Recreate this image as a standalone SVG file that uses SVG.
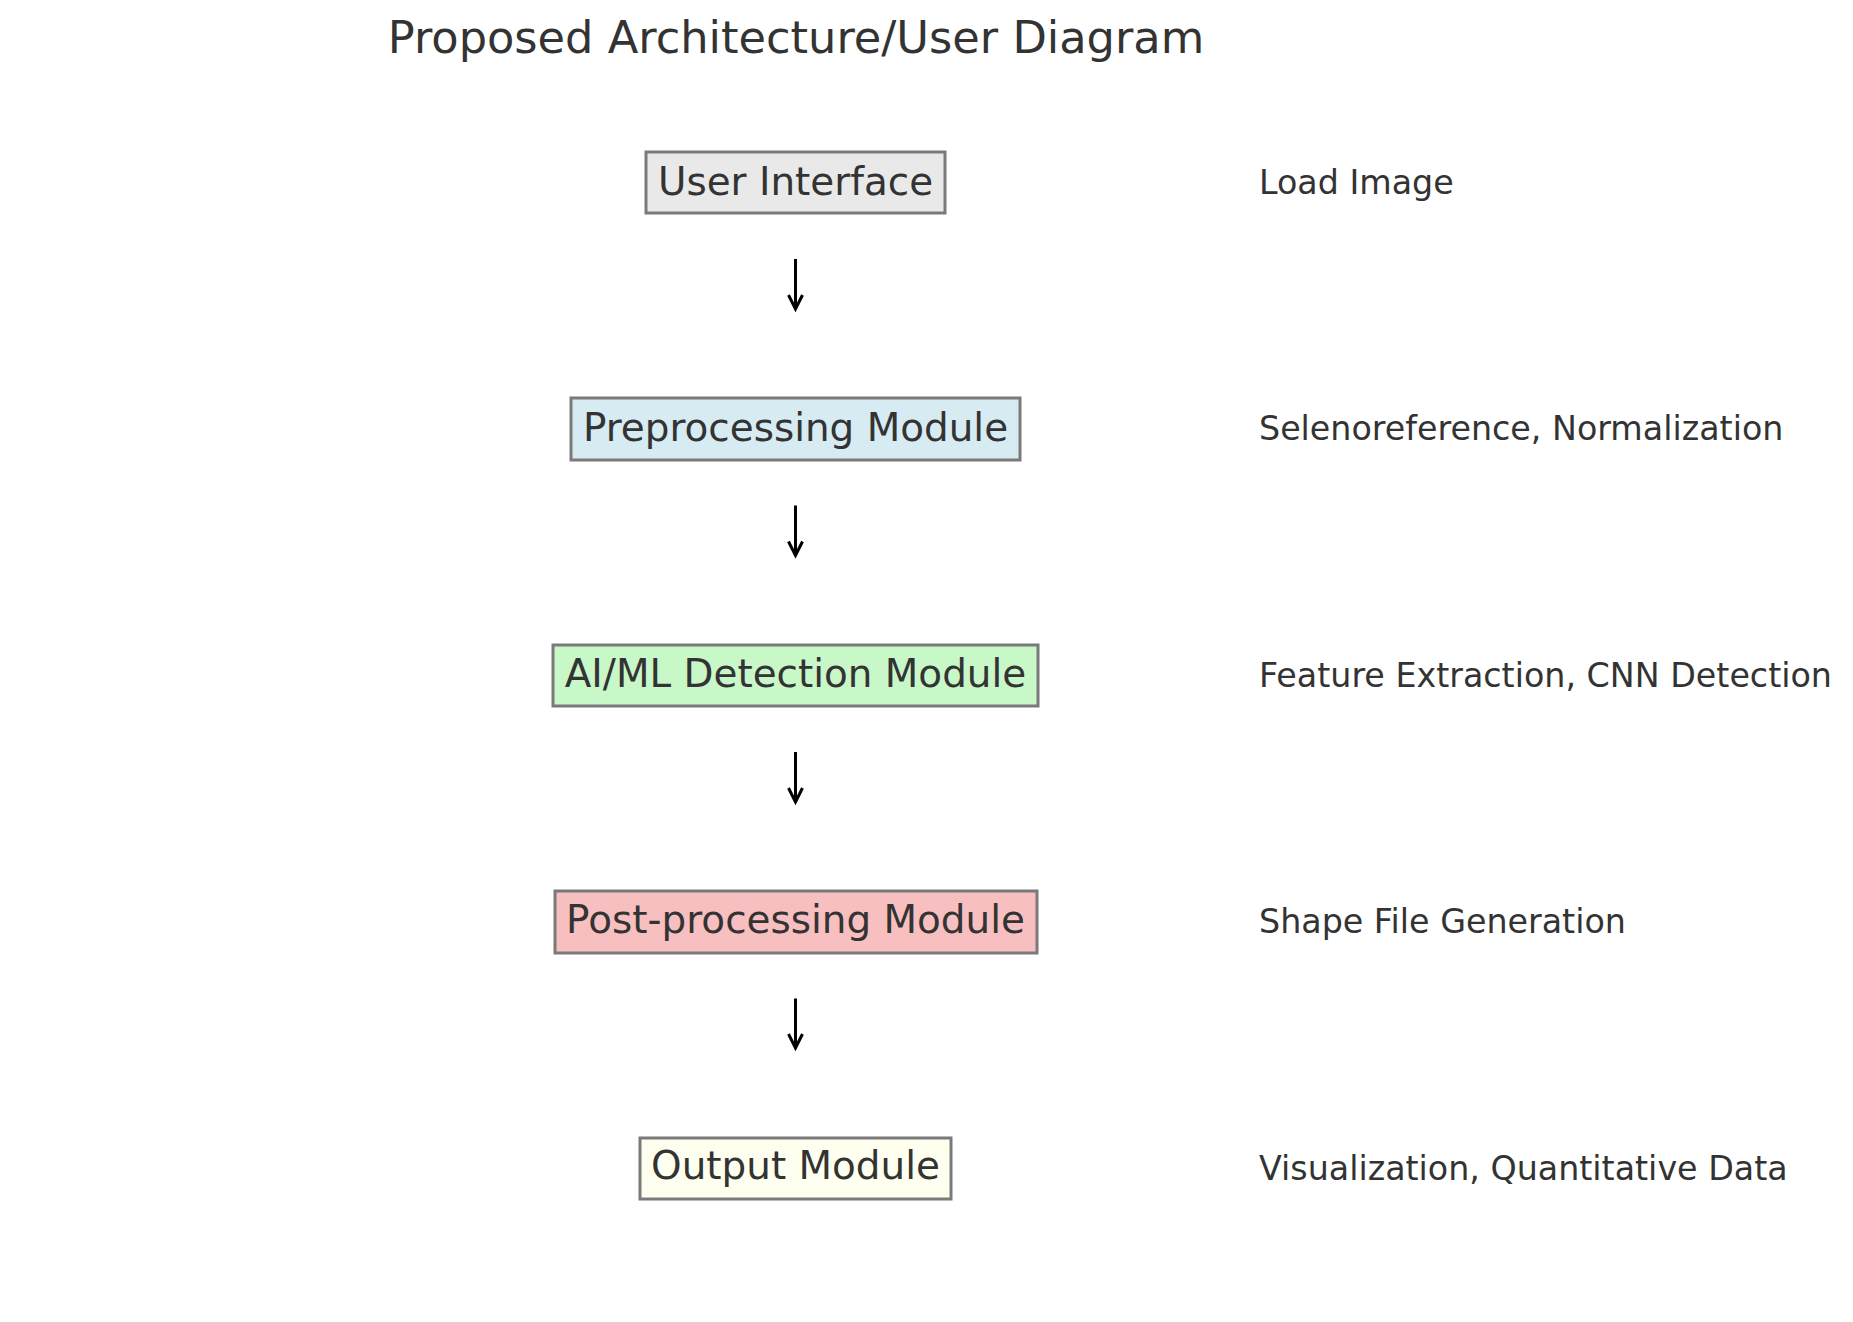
<svg xmlns="http://www.w3.org/2000/svg" width="1853" height="1322" viewBox="0 0 1853 1322">
<style>
text{font-family:"DejaVu Sans","Liberation Sans",sans-serif;fill:#333333}
.title{font-size:44.7px;text-anchor:middle}
.node rect{stroke:#7a7a7a;stroke-width:3}
.node text{font-size:38.9px;text-anchor:middle}
.label{font-size:33.3px}
.conn line{stroke:#000;stroke-width:3}
</style>
<defs>
<marker id="ah" markerUnits="userSpaceOnUse" markerWidth="20" markerHeight="20" viewBox="-17 -10 20 20" refX="0" refY="0" orient="auto">
<path d="M-14,-7 L0,0 L-14,7" fill="none" stroke="#000" stroke-width="3"/>
</marker>
</defs>
<rect width="1853" height="1322" fill="#fff"/>
<text class="title" x="796" y="53">Proposed Architecture/User Diagram</text>
<g id="n1" class="node"><rect x="646" y="152" width="299" height="61" fill="#e9e9e9"/><text x="795.5" y="195">User Interface</text></g>
<g id="n2" class="node"><rect x="571" y="398" width="449" height="62" fill="#d6ebf2"/><text x="795.5" y="441">Preprocessing Module</text></g>
<g id="n3" class="node"><rect x="553" y="645" width="485" height="61" fill="#c8f7c8"/><text x="795.5" y="687">AI/ML Detection Module</text></g>
<g id="n4" class="node"><rect x="555" y="891" width="482" height="62" fill="#f7bfbf"/><text x="795.5" y="933">Post-processing Module</text></g>
<g id="n5" class="node"><rect x="640" y="1138" width="311" height="61" fill="#fffff0"/><text x="795.5" y="1179">Output Module</text></g>
<g id="labels">
<text class="label" x="1259" y="194">Load Image</text>
<text class="label" x="1259" y="440">Selenoreference, Normalization</text>
<text class="label" x="1259" y="687">Feature Extraction, CNN Detection</text>
<text class="label" x="1259" y="933">Shape File Generation</text>
<text class="label" x="1259" y="1180">Visualization, Quantitative Data</text>
</g>
<g id="connectors" class="conn">
<line x1="795.5" y1="259" x2="795.5" y2="309" marker-end="url(#ah)"/>
<line x1="795.5" y1="505.5" x2="795.5" y2="555.5" marker-end="url(#ah)"/>
<line x1="795.5" y1="752" x2="795.5" y2="802" marker-end="url(#ah)"/>
<line x1="795.5" y1="998.5" x2="795.5" y2="1048" marker-end="url(#ah)"/>
</g>
</svg>
